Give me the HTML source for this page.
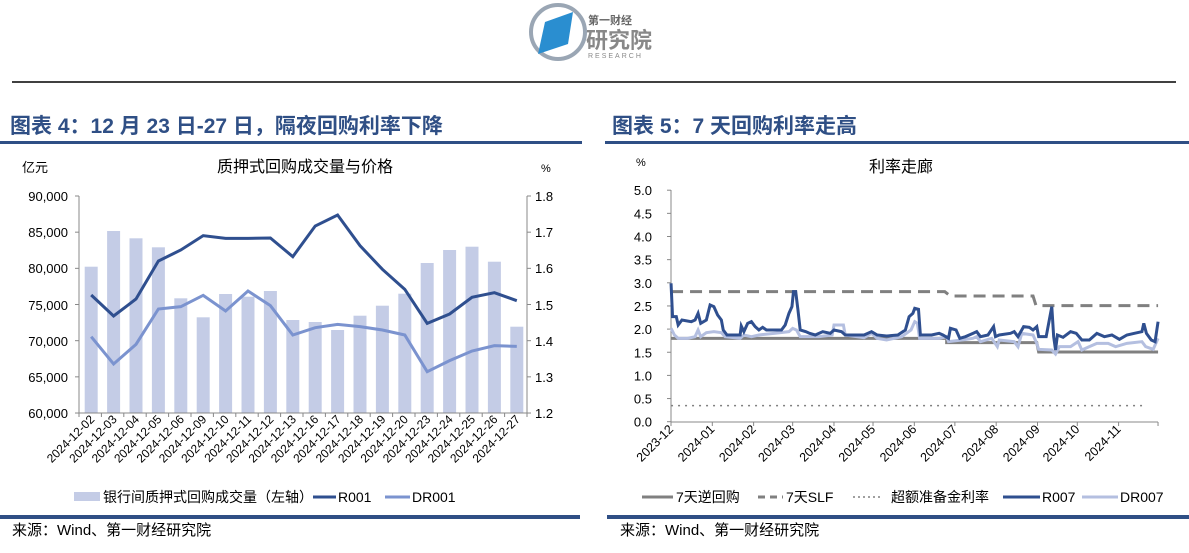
<!DOCTYPE html>
<html><head><meta charset="utf-8"><style>
body{margin:0;background:#fff;width:1189px;height:548px;overflow:hidden;font-family:"Liberation Sans","Noto Sans CJK SC",sans-serif;}
svg text{font-family:"Liberation Sans","Noto Sans CJK SC",sans-serif;}
</style></head><body>
<svg width="1189" height="548" viewBox="0 0 1189 548" xmlns="http://www.w3.org/2000/svg">
<circle cx="558" cy="32" r="27" fill="none" stroke="#9aa6b4" stroke-width="4"/>
<polygon points="545,22 573,12 568,44 538,54" fill="#2a8ed0"/>
<text x="588" y="24" font-size="11" fill="#666" font-weight="bold">第一财经</text>
<text x="586" y="48" font-size="22" fill="#888" font-weight="bold">研究院</text>
<text x="588" y="58" font-size="7" fill="#888" letter-spacing="2">RESEARCH</text>
<line x1="12" y1="82" x2="1176" y2="82" stroke="#000" stroke-width="1.5"/>
<text x="10" y="133" font-size="21" font-weight="bold" fill="#2f4f85">图表 4：12 月 23 日-27 日，隔夜回购利率下降</text>
<text x="612" y="133" font-size="21" font-weight="bold" fill="#2f4f85">图表 5：7 天回购利率走高</text>
<rect x="0" y="141" width="582" height="3" fill="#2f4f85"/>
<rect x="605" y="141" width="584" height="3" fill="#2f4f85"/>
<rect x="0" y="515" width="580" height="4" fill="#2f4f85"/>
<rect x="607" y="515" width="582" height="4" fill="#2f4f85"/>
<text x="12" y="535" font-size="15" fill="#000">来源：Wind、第一财经研究院</text>
<text x="620" y="535" font-size="15" fill="#000">来源：Wind、第一财经研究院</text>

<text x="22" y="172" font-size="13">亿元</text>
<text x="305" y="172" font-size="16" text-anchor="middle">质押式回购成交量与价格</text>
<text x="541" y="172" font-size="11">%</text>
<g font-size="13" fill="#000">
<text x="68" y="201" text-anchor="end">90,000</text>
<text x="68" y="237" text-anchor="end">85,000</text>
<text x="68" y="273" text-anchor="end">80,000</text>
<text x="68" y="310" text-anchor="end">75,000</text>
<text x="68" y="346" text-anchor="end">70,000</text>
<text x="68" y="382" text-anchor="end">65,000</text>
<text x="68" y="418" text-anchor="end">60,000</text>
<text x="535" y="201">1.8</text>
<text x="535" y="237">1.7</text>
<text x="535" y="273">1.6</text>
<text x="535" y="310">1.5</text>
<text x="535" y="346">1.4</text>
<text x="535" y="382">1.3</text>
<text x="535" y="418">1.2</text>
</g>
<g fill="#c4cce6" id="bars"></g>
<g stroke="#888" stroke-width="1">
<line x1="79" y1="196" x2="79" y2="413"/>
<line x1="527" y1="196" x2="527" y2="413"/>
<line x1="79" y1="413" x2="527" y2="413"/>
</g>
<g id="lticks" stroke="#888"></g>
<polyline id="r001" fill="none" stroke="#2f4f8f" stroke-width="3"/>
<polyline id="dr001" fill="none" stroke="#7b93cf" stroke-width="3"/>
<g id="llabels" font-size="12"></g>
<rect x="74" y="492" width="26" height="9" fill="#c4cce6"/>
<text x="103" y="502" font-size="14">银行间质押式回购成交量（左轴）</text>
<line x1="313" y1="497" x2="336" y2="497" stroke="#2f4f8f" stroke-width="3"/>
<text x="338" y="502" font-size="14">R001</text>
<line x1="385" y1="497" x2="410" y2="497" stroke="#7b93cf" stroke-width="3"/>
<text x="412" y="502" font-size="14">DR001</text>

<text x="636" y="166" font-size="11">%</text>
<text x="901" y="172" font-size="16" text-anchor="middle">利率走廊</text>
<g font-size="13" id="rylabels"></g>
<line x1="671" y1="190" x2="671" y2="422" stroke="#888"/>
<line x1="671" y1="422" x2="1158" y2="422" stroke="#888"/>
<g id="rticks" stroke="#888"></g>
<g id="rlabels" font-size="12.5"></g>
<g transform="translate(601.2,150) scale(0.3755,0.33333)">
<polyline fill="none" stroke="#808080" stroke-width="3" vector-effect="non-scaling-stroke" points="186,565 920,565 920,578 1160,578 1165,606 1483,606"/>
<polyline fill="none" stroke="#808080" stroke-width="3" stroke-dasharray="12,7" vector-effect="non-scaling-stroke" points="186,425 915,425 930,438 1150,438 1158,467 1483,467"/>
<polyline fill="none" stroke="#808080" stroke-width="1.5" stroke-dasharray="2,5" vector-effect="non-scaling-stroke" points="186,767 1450,767"/>
<polyline fill="none" stroke="#b4bfe0" stroke-width="3" vector-effect="non-scaling-stroke" points="186,535 195,555 205,565 230,565 250,560 258,540 265,560 280,548 300,545 320,548 330,560 370,565 380,555 400,560 420,555 460,550 500,545 510,535 520,540 530,560 580,560 615,555 620,525 645,525 650,555 700,563 720,550 735,565 760,570 800,560 825,540 835,515 842,520 848,565 900,565 920,560 925,575 960,570 990,565 1000,560 1010,575 1040,565 1055,590 1060,570 1100,575 1110,590 1120,550 1150,555 1160,580 1165,598 1200,600 1210,612 1220,590 1250,590 1270,575 1280,600 1300,590 1320,580 1350,580 1370,590 1400,580 1440,575 1450,590 1470,598 1483,565"/>
<polyline fill="none" stroke="#2f4f8f" stroke-width="3" vector-effect="non-scaling-stroke" points="186,400 190,500 200,500 205,525 215,510 240,515 250,510 258,490 265,520 280,510 290,465 300,470 310,495 320,510 325,540 335,555 370,555 373,528 380,545 390,520 400,515 410,530 420,540 430,532 440,540 480,540 490,525 500,490 508,470 512,425 518,425 524,480 530,540 545,545 555,550 570,555 590,545 610,550 620,540 640,545 650,555 700,555 720,545 735,555 760,558 790,555 810,540 820,500 830,490 835,475 845,478 850,555 880,555 900,550 910,555 925,565 930,535 945,540 955,565 970,560 990,550 1000,545 1010,560 1030,555 1045,530 1050,560 1060,555 1090,550 1100,545 1110,560 1125,530 1140,532 1150,540 1160,530 1165,560 1185,560 1200,470 1205,560 1210,600 1215,555 1230,562 1250,545 1265,550 1280,570 1300,570 1320,550 1340,560 1360,555 1380,568 1400,555 1420,550 1440,545 1445,520 1452,550 1465,570 1475,575 1483,515"/>
</g>
<line x1="642" y1="497" x2="673" y2="497" stroke="#808080" stroke-width="3"/>
<text x="676" y="502" font-size="14">7天逆回购</text>
<line x1="758" y1="497" x2="783" y2="497" stroke="#808080" stroke-width="3" stroke-dasharray="7,5"/>
<text x="786" y="502" font-size="14">7天SLF</text>
<line x1="853" y1="497" x2="880" y2="497" stroke="#808080" stroke-width="1.5" stroke-dasharray="2,3"/>
<text x="891" y="502" font-size="14">超额准备金利率</text>
<line x1="1003" y1="497" x2="1040" y2="497" stroke="#2f4f8f" stroke-width="3"/>
<text x="1042" y="502" font-size="14">R007</text>
<line x1="1082" y1="497" x2="1118" y2="497" stroke="#b4bfe0" stroke-width="3"/>
<text x="1120" y="502" font-size="14">DR007</text>
</svg>
<script>
var NS="http://www.w3.org/2000/svg";
function el(t,a,p,txt){var e=document.createElementNS(NS,t);for(var k in a)e.setAttribute(k,a[k]);if(txt)e.textContent=txt;document.getElementById(p).appendChild(e);return e;}
var bars=[266.7,231,238.3,247.3,298.3,317.3,294,296.7,291,320,322,330,315.7,305.7,293.7,263,250,246.7,261.7,326.7];
var r=[435,498,447,333,300,257,265,265,264,320,228,195,287,358,418,520,492,442,428,452];
var d=[560,642,583,477,470,436,483,423,467,555,533,523,530,540,555,665,632,603,587,589];
var dates=["2024-12-02","2024-12-03","2024-12-04","2024-12-05","2024-12-06","2024-12-09","2024-12-10","2024-12-11","2024-12-12","2024-12-13","2024-12-16","2024-12-17","2024-12-18","2024-12-19","2024-12-20","2024-12-23","2024-12-24","2024-12-25","2024-12-26","2024-12-27"];
var rp=[],dp=[];
for(var i=0;i<20;i++){var cx=79+22.4*(i+0.5)+1;
el("rect",{x:cx-6.5,y:bars[i],width:13,height:413-bars[i]},"bars");
rp.push(cx+","+(150+r[i]/3));dp.push(cx+","+(150+d[i]/3));
el("line",{x1:79+22.4*i,y1:413,x2:79+22.4*i,y2:417},"lticks");
el("text",{x:cx+4,y:420,"text-anchor":"end",transform:"rotate(-45 "+(cx+4)+" 420)"},"llabels",dates[i]);}
el("line",{x1:527,y1:413,x2:527,y2:417},"lticks");
for(var j=0;j<7;j++){var y=196+j*36.17;el("line",{x1:75,y1:y,x2:79,y2:y},"lticks");el("line",{x1:527,y1:y,x2:531,y2:y},"lticks");}
document.getElementById("r001").setAttribute("points",rp.join(" "));
document.getElementById("dr001").setAttribute("points",dp.join(" "));
for(var k=0;k<=10;k++){var v=k*0.5,y=421.7-46.3*v;el("line",{x1:667,y1:y,x2:671,y2:y},"rticks");el("text",{x:652,y:y+5,"text-anchor":"end"},"rylabels",v.toFixed(1));}
var mx=[186,296,406,510,620,724,834,942,1052,1162,1268,1378,1483];
var mn=["2023-12","2024-01","2024-02","2024-03","2024-04","2024-05","2024-06","2024-07","2024-08","2024-09","2024-10","2024-11"];
for(var m=0;m<13;m++){var x=671+(mx[m]-186)*0.3755;el("line",{x1:x,y1:422,x2:x,y2:426},"rticks");
if(m<12){el("text",{x:x+3,y:430,"text-anchor":"end",transform:"rotate(-45 "+(x+3)+" 430)"},"rlabels",mn[m]);}}
</script>
</body></html>
